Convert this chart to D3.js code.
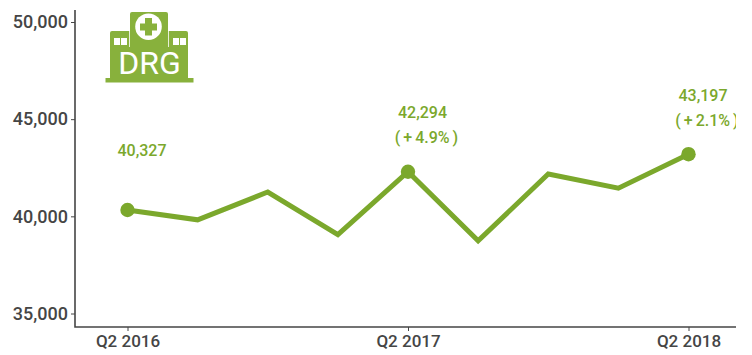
<!DOCTYPE html>
<html><head><meta charset="utf-8">
<script src="https://cdn.jsdelivr.net/npm/d3@7"></script>
<style>
html,body{margin:0;padding:0;background:#fff}
svg{display:block}
text{font-family:Roboto,sans-serif}
</style></head><body>
<svg id="c" width="752" height="355"></svg>
<script>
const quarters=["Q2 2016","Q3 2016","Q4 2016","Q1 2017","Q2 2017","Q3 2017","Q4 2017","Q1 2018","Q2 2018"];
const values=[40327,39820,41250,39060,42294,38740,42180,41450,43197];
const yTicks=[35000,40000,45000,50000];
const xTickLabels=["Q2 2016","Q2 2017","Q2 2018"];
const labelRows=[["40,327"],["42,294","( + 4.9% )"],["43,197","( + 2.1% )"]];
const labelQuarters=["Q2 2016","Q2 2017","Q2 2018"];
const labelOffsets=[[-60],[-60,-35],[-59,-34]];
const labelShift=[[14.5],[14.5,18.5],[14.5,18.5]];

const green="#7BA82C",dark="#454545";
const svg=d3.select("#c");
svg.append("clipPath").attr("id","clip").append("rect").attr("width",736).attr("height",355);
const x=d3.scalePoint().domain(quarters).range([127.5,688.5]);
const y=d3.scaleLinear().domain([35000,50000]).range([313.5,22]);

svg.append("g").attr("transform","translate(75,0)")
  .call(d3.axisLeft(y).tickValues(yTicks).tickFormat(d3.format(",")).tickSize(4).tickPadding(3))
  .call(g=>g.select(".domain").remove())
  .call(g=>g.selectAll("line").attr("stroke",dark).attr("stroke-width",1))
  .call(g=>g.selectAll("text").attr("fill",dark).attr("font-size",18).attr("font-weight",500).attr("font-family","Roboto"));
svg.append("g").attr("transform","translate(0,327)")
  .call(d3.axisBottom(x).tickValues(xTickLabels).tickSize(4).tickPadding(4))
  .call(g=>g.select(".domain").remove())
  .call(g=>g.selectAll("line").attr("stroke",dark).attr("stroke-width",1))
  .call(g=>g.selectAll("text").attr("fill",dark).attr("font-size",17).attr("font-weight",500).attr("font-family","Roboto"));
svg.append("path").attr("d","M75,10V327H736").attr("fill","none").attr("stroke",dark).attr("stroke-width",1.6);

svg.append("path").datum(values)
  .attr("d",d3.line().x((d,i)=>x(quarters[i])).y(d=>y(d)))
  .attr("fill","none").attr("stroke",green).attr("stroke-width",5).attr("stroke-linejoin","miter");
labelQuarters.forEach((q,k)=>{
  const i=quarters.indexOf(q),cx=x(q),cy=y(values[i]);
  svg.append("circle").attr("cx",cx).attr("cy",cy).attr("r",7.2).attr("fill",green);
  labelRows[k].forEach((t,j)=>{
    svg.append("text").attr("x",cx+labelShift[k][j]).attr("y",cy+labelOffsets[k][j]+6.2)
      .attr("clip-path","url(#clip)").attr("word-spacing",j==1?-1:0)
      .attr("text-anchor","middle").attr("fill",green).attr("font-size",16).attr("font-weight",500).text(t);
  });
});

/* DRG hospital icon */
const icon=svg.append("g").attr("fill","#88B13C");
icon.append("path").attr("d","M132,12H166Q168,12 168,14V31H186Q188,31 188,33V78H193.5V82.5H105.5V78H110V33Q110,31 112,31H130V14Q130,12 132,12Z");
icon.append("circle").attr("cx",148.5).attr("cy",26.7).attr("r",13.3).attr("fill","#fff");
icon.append("path").attr("d","M145,18H152V23.5H157V30.5H152V35.5H145V30.5H140V23.5H145Z");
icon.append("path").attr("fill","none").attr("stroke","#fff").attr("stroke-width",.8).attr("d","M129.5,31V47M168.5,31V47");
[114,121,173,180].forEach(a=>icon.append("rect").attr("x",a).attr("y",38).attr("width",6).attr("height",7).attr("fill","#fff"));
svg.append("text").attr("x",149.5).attr("y",74).attr("text-anchor","middle").attr("fill","#fff").attr("font-size",32).attr("font-weight",400).text("DRG");
</script>
</body></html>
